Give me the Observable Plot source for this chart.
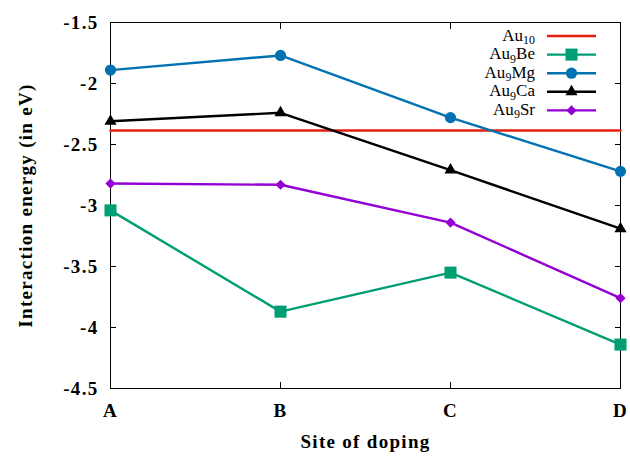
<!DOCTYPE html>
<html><head><meta charset="utf-8">
<script src="https://cdn.jsdelivr.net/npm/d3@7"></script>
<script src="https://cdn.jsdelivr.net/npm/@observablehq/plot@0.6"></script>
<style>
html,body{margin:0;padding:0;background:#fff;}
#wrap{position:relative;width:630px;height:456px;}
#wrap svg{display:block}
</style></head><body><div id="wrap"></div>
<script>
const sites = ["A", "B", "C", "D"];
const seriesNames = ["Au10", "Au9Be", "Au9Mg", "Au9Ca", "Au9Sr"];
const legendBase = ["Au", "Au", "Au", "Au", "Au"];
const legendSub = ["10", "9", "9", "9", "9"];
const legendTail = ["", "Be", "Mg", "Ca", "Sr"];
const au10 = [-2.385, -2.385, -2.385, -2.385];
const au9be = [-3.04, -3.87, -3.55, -4.14];
const au9mg = [-1.89, -1.77, -2.28, -2.72];
const au9ca = [-2.31, -2.24, -2.71, -3.19];
const au9sr = [-2.82, -2.83, -3.14, -3.76];
const yTicks = [-4.5, -4, -3.5, -3, -2.5, -2, -1.5];
const xTitle = "Site of doping";
const yTitle = "Interaction energy (in eV)";
const colors = ["#e51e10", "#009e73", "#0072b2", "#000000", "#9400d3"];
const symbols = [null, "square", "circle", "triangle", "diamond2"];
const radii = [0, 6.8, 5.6, 4.5, 4.6];

const seriesVals = [au10, au9be, au9mg, au9ca, au9sr];
const rows = [];
seriesNames.forEach((s, i) => sites.forEach((site, j) => rows.push({series: s, site, value: seriesVals[i][j]})));

const serif = '"Liberation Serif","Times New Roman",serif';
const marks = [
  Plot.frame({stroke: "#000", strokeWidth: 1}),
  Plot.axisY(yTicks, {anchor: "left", tickSize: -6, tickPadding: 18, tickFormat: d => String(d), label: null}),
  Plot.axisY(yTicks, {anchor: "right", tickSize: -6, tickFormat: () => "", label: null}),
  Plot.axisX(sites, {anchor: "bottom", tickSize: -6, tickPadding: 21, label: null}),
  Plot.axisX(sites, {anchor: "top", tickSize: -6, tickFormat: () => "", label: null}),
  Plot.text([xTitle], {text: d => d, frameAnchor: "bottom", lineAnchor: "bottom", dy: 59}),
  Plot.text([yTitle], {text: d => d, frameAnchor: "left", rotate: -90, lineAnchor: "bottom", textAnchor: "middle", dx: -79})
];
seriesNames.forEach((s, i) => {
  const d = rows.filter(r => r.series === s);
  marks.push(Plot.line(d, {x: "site", y: "value", stroke: colors[i], strokeWidth: 2.4}));
  if (symbols[i]) marks.push(Plot.dot(d, {x: "site", y: "value", symbol: symbols[i], fill: colors[i], stroke: "none", r: radii[i]}));
});

const chart = Plot.plot({
  width: 630, height: 456,
  marginLeft: 110, marginRight: 10, marginTop: 22, marginBottom: 68,
  x: {type: "point", domain: sites, padding: 0},
  y: {domain: [-4.5, -1.5]},
  style: {fontFamily: serif, fontSize: "19px", fontWeight: "bold", letterSpacing: "1.3px", background: "#fff", color: "#000", overflow: "visible"},
  marks
});
document.getElementById("wrap").appendChild(chart);

// legend (top right, gnuplot style)
const leg = d3.select("#wrap").append("svg")
  .attr("width", 630).attr("height", 456)
  .style("position", "absolute").style("left", "0px").style("top", "0px")
  .style("pointer-events", "none");
const symMap = {square: d3.symbolSquare, circle: d3.symbolCircle, triangle: d3.symbolTriangle, diamond2: d3.symbolDiamond2};
seriesNames.forEach((s, i) => {
  const y = 36 + i * 18.6;
  const t = leg.append("text").attr("x", 535).attr("y", y + 4.5)
    .attr("text-anchor", "end").attr("font-family", serif).attr("font-size", 17).attr("fill", "#000");
  t.append("tspan").text(legendBase[i]);
  t.append("tspan").attr("dy", 3.5).attr("font-size", 12).text(legendSub[i]);
  if (legendTail[i]) t.append("tspan").attr("dy", -3.5).text(legendTail[i]);
  leg.append("line").attr("x1", 547).attr("x2", 596).attr("y1", y).attr("y2", y)
    .attr("stroke", colors[i]).attr("stroke-width", 2.4);
  if (symbols[i]) {
    leg.append("path")
      .attr("d", d3.symbol(symMap[symbols[i]], Math.PI * radii[i] * radii[i])())
      .attr("transform", `translate(571.5,${y})`)
      .attr("fill", colors[i]);
  }
});
</script></body></html>
